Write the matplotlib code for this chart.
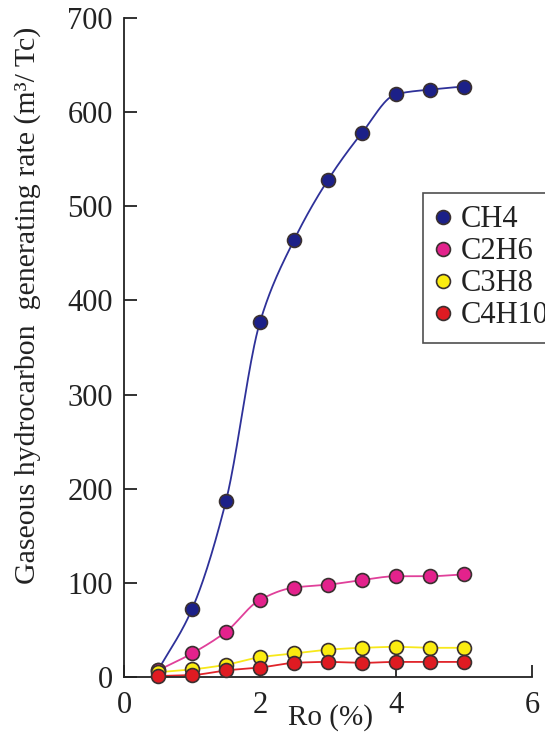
import numpy as np
import matplotlib
matplotlib.use("Agg")
import matplotlib.pyplot as plt
from matplotlib import font_manager as fm
from matplotlib.lines import Line2D

serif_name = None
for f in fm.findSystemFonts():
    if 'LiberationSerif-Regular' in f or 'Times' in f:
        try:
            fm.fontManager.addfont(f)
            serif_name = fm.FontProperties(fname=f).get_name()
            break
        except Exception:
            pass
fams = [serif_name] if serif_name else []
fams += ['Liberation Serif', 'DejaVu Serif']
plt.rcParams['font.family'] = fams

ro = [0.5, 1.0, 1.5, 2.0, 2.5, 3.0, 3.5, 4.0, 4.5, 5.0]
ch4 = [7, 72, 187, 377, 464, 528, 578, 619, 624, 627]
c2h6 = [7, 25, 48, 82, 95, 98, 103, 107, 107, 109]
c3h8 = [5, 8, 13, 21, 25, 29, 31, 32, 31, 31]
c4h10 = [1, 2, 7, 10, 15, 16, 15, 16, 16, 16]
names = ["CH4", "C2H6", "C3H8", "C4H10"]
x_ticks = [0, 2, 4, 6]
y_ticks = [0, 100, 200, 300, 400, 500, 600, 700]

fills = ["#1c2088", "#e3228c", "#fbec10", "#df1b22"]
lines = ["#2e3199", "#e0409a", "#f7e81a", "#e0242a"]


def pchip(x, y, xs):
    x = np.asarray(x, float); y = np.asarray(y, float)
    h = np.diff(x); d = np.diff(y) / h
    n = len(x); m = np.zeros(n)
    for k in range(1, n - 1):
        if d[k - 1] * d[k] > 0:
            w1 = 2 * h[k] + h[k - 1]; w2 = h[k] + 2 * h[k - 1]
            m[k] = (w1 + w2) / (w1 / d[k - 1] + w2 / d[k])
    m[0] = d[0]; m[-1] = d[-1] * 0.5
    idx = np.clip(np.searchsorted(x, xs) - 1, 0, n - 2)
    t = (xs - x[idx]) / h[idx]
    h00 = 2 * t**3 - 3 * t**2 + 1; h10 = t**3 - 2 * t**2 + t
    h01 = -2 * t**3 + 3 * t**2; h11 = t**3 - t**2
    return (h00 * y[idx] + h10 * h[idx] * m[idx] + h01 * y[idx + 1]
            + h11 * h[idx] * m[idx + 1])


fig = plt.figure(figsize=(5.45, 7.45), dpi=100)
ax = fig.add_axes([0.2275, 0.0913, 0.7485, 0.8845])

xs = np.linspace(ro[0], ro[-1], 300)
for ys, fc, lc in zip([ch4, c2h6, c3h8, c4h10], fills, lines):
    ax.plot(xs, pchip(ro, ys, xs), color=lc, lw=1.3, zorder=2)
for ys, fc in zip([ch4, c2h6, c3h8, c4h10], fills):
    ax.plot(ro, ys, 'o', ms=10, mfc=fc, mec="#3a3030", mew=1.2, zorder=3,
            clip_on=False)

ax.set_xlim(0, 6)
ax.set_ylim(0, 700)
ax.set_xticks(x_ticks)
ax.set_yticks(y_ticks)
ax.spines['top'].set_visible(False)
ax.spines['right'].set_visible(False)
for s in ['left', 'bottom']:
    ax.spines[s].set_linewidth(1.3)
    ax.spines[s].set_color('#222222')
ax.tick_params(direction='in', length=9, width=1.3, labelsize=22,
               colors='#222222', pad=8)
ax.tick_params(axis='x', pad=10)

fig.text(28 / 545, 1 - 305 / 745,
         "Gaseous hydrocarbon  generating rate (m³/ Tc)",
         rotation=90, va='center', ha='center', fontsize=21.5, color='#222222')
fig.text(331 / 545, 1 - 718 / 745, "Ro (%)", ha='center', va='center',
         fontsize=21, color='#222222')

handles = [Line2D([], [], ls='none', marker='o', ms=10, mfc=fc, mec="#3a3030",
                  mew=1.2) for fc in fills]
leg = fig.legend(handles, names, loc='upper left',
                 bbox_to_anchor=(423 / 545, 1 - 193 / 745),
                 frameon=True, fancybox=False, fontsize=22,
                 handlelength=0.5, handletextpad=0.35, labelspacing=0.1,
                 borderpad=0.4, borderaxespad=0)
leg.get_frame().set_edgecolor('#222222')
leg.get_frame().set_linewidth(1.2)
for t in leg.get_texts():
    t.set_color('#222222')

fig.savefig("out.png", dpi=100)
